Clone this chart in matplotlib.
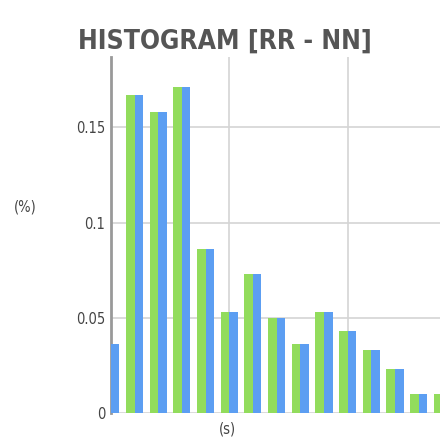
import matplotlib
matplotlib.use("Agg")
import numpy as np
import matplotlib.pyplot as plt

# Valeurs de l'histogramme (fraction par classe)
bins = list(range(15))
green_vals = [0.036, 0.167, 0.158, 0.171, 0.086, 0.053, 0.073, 0.050, 0.036, 0.053, 0.043, 0.033, 0.023, 0.010, 0.010]
blue_vals = [0.036, 0.167, 0.158, 0.171, 0.086, 0.053, 0.073, 0.050, 0.036, 0.053, 0.043, 0.033, 0.023, 0.010, 0.010]
y_ticks = [0, 0.05, 0.1, 0.15]
y_labels = ["0", "0.05", "0.1", "0.15"]

plt.rcParams['font.family'] = ['DejaVu Sans']
plt.rcParams['font.stretch'] = 'condensed'

fig = plt.figure(figsize=(4.4, 4.41), dpi=100)
ax = fig.add_axes([0.252, 0.0635, 0.748, 0.8075])

w = 0.36
x = np.array(bins)
ax.bar(x - w, green_vals, width=w, align='edge', color='#92dc5c', zorder=3)
ax.bar(x, blue_vals, width=w, align='edge', color='#5c9ef2', zorder=3)

ax.set_xlim(0, 13.9)
ax.set_ylim(0, 0.187)
ax.set_yticks(y_ticks)
ax.set_yticklabels(y_labels, color='#444444', fontsize=10.5, fontstretch='condensed')
ax.set_xticks([5, 10])
ax.set_xticklabels([])
ax.tick_params(length=0, pad=4)
ax.grid(True, color='#d4d4d4', linewidth=1.2)
ax.set_axisbelow(True)

for s in ['top', 'right', 'bottom']:
    ax.spines[s].set_visible(False)
ax.spines['left'].set_color('#999999')
ax.spines['left'].set_linewidth(2)

fig.text(0.518, 0.028, "(s)", ha='center', va='center', fontsize=10.5, color='#444444',
         fontstretch='condensed')
fig.text(0.057, 0.531, "(%)", ha='center', va='center', fontsize=10.5, color='#444444',
         fontstretch='condensed')
fig.text(0.51, 0.905, "HISTOGRAM [RR - NN]", ha='center', va='center',
         fontsize=19, fontweight='bold', color='#555555', fontstretch='condensed')

fig.savefig("out.png", dpi=100)
